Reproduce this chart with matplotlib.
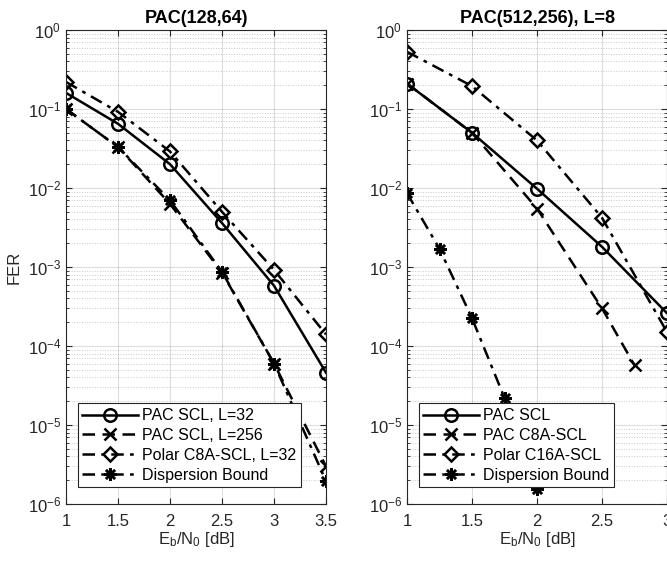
import numpy as np
import matplotlib
matplotlib.use("Agg")
import matplotlib.pyplot as plt
from matplotlib.ticker import FixedLocator, NullFormatter, LogFormatterSciNotation

plt.rcParams['font.family'] = ['Liberation Sans', 'DejaVu Sans']
plt.rcParams['mathtext.fontset'] = 'custom'
plt.rcParams['mathtext.rm'] = 'Liberation Sans'
plt.rcParams['mathtext.it'] = 'Liberation Sans:italic'

# PAC(128,64)
snr_a = [1, 1.5, 2, 2.5, 3, 3.5]
pac_l32 = [0.16, 0.065, 0.020, 0.0036, 0.00058, 4.6e-5]
pac_l256 = [0.10, 0.033, 0.0063, 0.00085, 6.0e-5, 3.0e-6]
polar_c8a = [0.22, 0.092, 0.029, 0.0050, 0.00092, 1.4e-4]
disp_a = [0.10, 0.033, 0.0070, 0.00087, 6.0e-5, 1.95e-6]

# PAC(512,256), L=8
snr_b = [1, 1.5, 2, 2.5, 3]
pac_scl = [0.21, 0.050, 0.0098, 0.0018, 2.6e-4]
snr_b_c8a = [1, 1.5, 2, 2.5, 2.75]
pac_c8a = [0.21, 0.050, 0.0055, 3.0e-4, 5.7e-5]
polar_c16a = [0.53, 0.195, 0.040, 0.0042, 1.5e-4]
snr_b_disp = [1, 1.25, 1.5, 1.75, 2]
disp_b = [0.0086, 0.0017, 2.25e-4, 2.2e-5, 1.55e-6]

xticks = [1, 1.5, 2, 2.5, 3, 3.5]
xtick_labels = ['1', '1.5', '2', '2.5', '3', '3.5']
decades = [-6, -5, -4, -3, -2, -1, 0]

W, H = 667, 561
fig = plt.figure(figsize=(W / 100, H / 100), dpi=100)
ax1 = fig.add_axes([66 / W, 1 - 504 / H, 260 / W, 474 / H])
ax2 = fig.add_axes([407 / W, 1 - 504 / H, 260 / W, 474 / H])

asterisk = (8, 2, 0)
kw = dict(color='black', linewidth=1.8, markersize=9, markerfacecolor='none', markeredgewidth=1.8)
dash = (0, (5, 3))
dashdot = (0, (5, 2.5, 1.5, 2.5))

major_y = [10.0 ** d for d in decades]
minor_y = [m * 10.0 ** d for d in decades[:-1] for m in range(2, 10)]


def style(ax, xmax):
    ax.set_yscale('log')
    ax.set_ylim(1e-6, 1)
    ax.set_xlim(1, xmax)
    n = int(round((xmax - 1) / 0.5)) + 1
    ax.set_xticks(xticks[:n])
    ax.set_xticklabels(xtick_labels[:n])
    ax.yaxis.set_major_locator(FixedLocator(major_y))
    ax.yaxis.set_major_formatter(LogFormatterSciNotation())
    ax.yaxis.set_minor_locator(FixedLocator(minor_y))
    ax.yaxis.set_minor_formatter(NullFormatter())
    ax.grid(True, which='major', color='#262626', alpha=0.15, linewidth=0.8, linestyle='-')
    ax.grid(True, which='minor', axis='y', color='#262626', alpha=0.25, linewidth=0.7, linestyle=':')
    ax.tick_params(which='both', direction='in', top=True, right=True, labelsize=12,
                   colors='#262626', labelcolor='#262626')
    ax.tick_params(which='major', length=4)
    ax.tick_params(which='minor', length=2)
    ax.tick_params(axis='x', pad=7)
    for s in ax.spines.values():
        s.set_color('#262626')
        s.set_linewidth(0.8)
    ax.set_xlabel('E$_\\mathregular{b}$/N$_\\mathregular{0}$ [dB]', fontsize=12, color='#262626',
                  labelpad=1)


ax1.plot(snr_a, pac_l32, linestyle='-', marker='o', label='PAC SCL, L=32', **kw)
ax1.plot(snr_a, pac_l256, linestyle=dash, marker='x', label='PAC SCL, L=256', **kw)
ax1.plot(snr_a, polar_c8a, linestyle=dashdot, marker='D', label='Polar C8A-SCL, L=32',
         **{**kw, 'markersize': 7})
ax1.plot(snr_a, disp_a, linestyle=dashdot, marker=asterisk, label='Dispersion Bound', **kw)
style(ax1, 3.5)
ax1.set_ylabel('FER', fontsize=12, color='#262626')
ax1.set_title('PAC(128,64)', fontsize=13, fontweight='bold', pad=5)

ax2.plot(snr_b, pac_scl, linestyle='-', marker='o', label='PAC SCL', **kw)
ax2.plot(snr_b_c8a, pac_c8a, linestyle=dash, marker='x', label='PAC C8A-SCL', **kw)
ax2.plot(snr_b, polar_c16a, linestyle=dashdot, marker='D', label='Polar C16A-SCL',
         **{**kw, 'markersize': 7})
ax2.plot(snr_b_disp, disp_b, linestyle=dashdot, marker=asterisk, label='Dispersion Bound', **kw)
style(ax2, 3.0)
ax2.set_title('PAC(512,256), L=8', fontsize=13, fontweight='bold', pad=5)

for ax in (ax1, ax2):
    leg = ax.legend(loc='lower left', bbox_to_anchor=(0.045, 0.035), fontsize=11.5,
                    handlelength=3.5, fancybox=False, framealpha=1, edgecolor='#262626',
                    borderpad=0.3, labelspacing=0.3, handletextpad=0.2, borderaxespad=0)
    leg.get_frame().set_linewidth(0.8)

fig.savefig('out.png', dpi=100)
